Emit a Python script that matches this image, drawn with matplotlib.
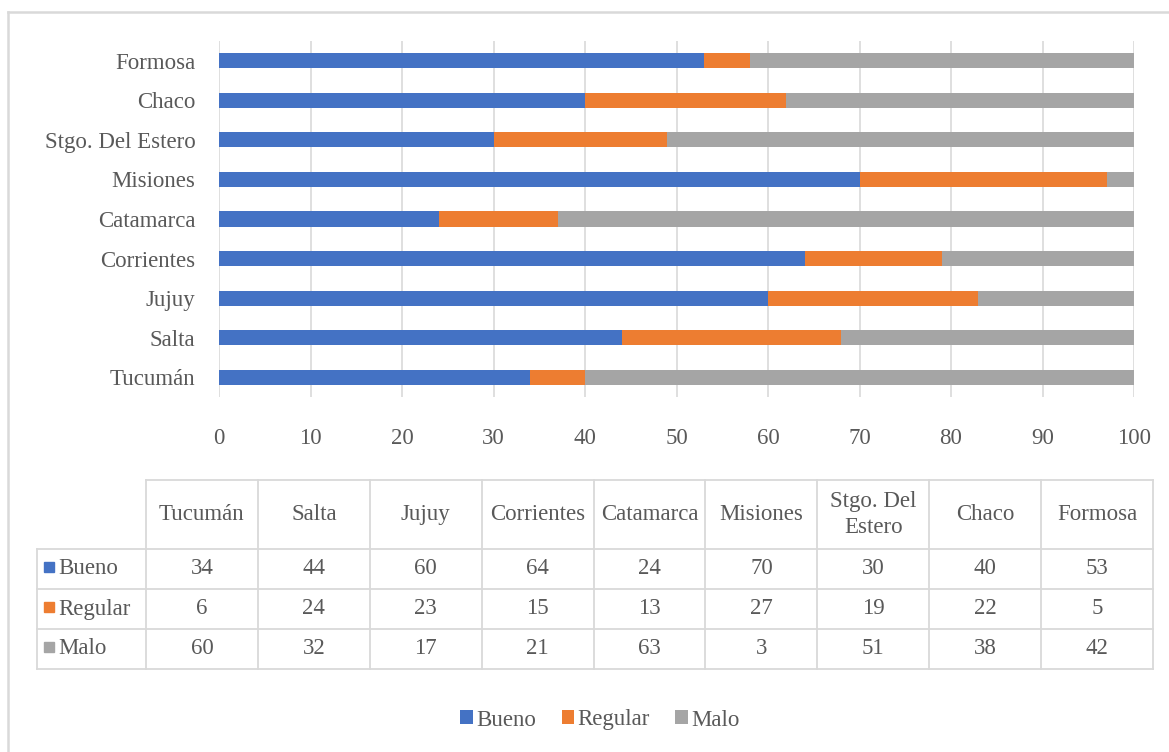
import matplotlib
matplotlib.use("Agg")
import matplotlib.pyplot as plt
from matplotlib.patches import Patch

# data (bottom to top in the bar chart = table order)
provincias = ['Tucumán', 'Salta', 'Jujuy', 'Corrientes', 'Catamarca',
              'Misiones', 'Stgo. Del Estero', 'Chaco', 'Formosa']
bueno = [34, 44, 60, 64, 24, 70, 30, 40, 53]
regular = [6, 24, 23, 15, 13, 27, 19, 22, 5]
malo = [60, 32, 17, 21, 63, 3, 51, 38, 42]
series = ['Bueno', 'Regular', 'Malo']
xticks = list(range(0, 101, 10))

colors = {'Bueno': '#4472C4', 'Regular': '#ED7D31', 'Malo': '#A5A5A5'}
txt = '#595959'
grid_c = '#D9D9D9'
fs = 16.5

plt.rcParams['font.family'] = ['Liberation Serif', 'DejaVu Serif']

W, H = 1169, 752
fig = plt.figure(figsize=(W / 100, H / 100), dpi=100)


def px_box(x0, y0, x1, y1):
    # pixel box (top-left origin) -> figure fraction rect
    return [x0 / W, 1 - y1 / H, (x1 - x0) / W, (y1 - y0) / H]


# ---- stacked bar chart ----
ax = fig.add_axes(px_box(219, 41, 1134, 397))
ypos = range(len(provincias))
h = 0.38
ax.barh(ypos, bueno, height=h, color=colors['Bueno'], zorder=3)
ax.barh(ypos, regular, height=h, left=bueno, color=colors['Regular'], zorder=3)
left2 = [b + r for b, r in zip(bueno, regular)]
ax.barh(ypos, malo, height=h, left=left2, color=colors['Malo'], zorder=3)

ax.set_xlim(0, 100)
ax.set_ylim(-0.5, len(provincias) - 0.5)
ax.set_xticks(xticks)
ax.set_yticks(list(ypos))
ax.set_yticklabels(provincias)
ax.tick_params(axis='x', length=0, pad=22, labelsize=fs, labelcolor=txt)
ax.tick_params(axis='y', length=0, pad=17, labelsize=fs, labelcolor=txt)
ax.grid(axis='x', color=grid_c, lw=1.2, zorder=0)
for s in ax.spines.values():
    s.set_visible(False)

# ---- data table ----
tab = fig.add_axes(px_box(37, 480, 1153, 669))
lab_w = 109 / 111.9
hdr_h = 69 / 40
ncol = len(provincias)
tab.set_xlim(-lab_w, ncol)
tab.set_ylim(0, 3 + hdr_h)
tab.axis('off')

for yy in [0, 1, 2, 3]:
    tab.plot([-lab_w, ncol], [yy, yy], color=grid_c, lw=1.3, clip_on=False)
tab.plot([0, ncol], [3 + hdr_h] * 2, color=grid_c, lw=1.3, clip_on=False)
tab.plot([-lab_w, -lab_w], [0, 3], color=grid_c, lw=1.3, clip_on=False)
for xx in range(ncol + 1):
    tab.plot([xx, xx], [0, 3 + hdr_h], color=grid_c, lw=1.3, clip_on=False)

for i, p in enumerate(provincias):
    lbl = 'Stgo. Del\nEstero' if p == 'Stgo. Del Estero' else p
    tab.text(i + 0.5, 3 + hdr_h / 2, lbl, ha='center', va='center',
             fontsize=fs, color=txt, linespacing=1.3)

rows = {'Bueno': bueno, 'Regular': regular, 'Malo': malo}
for r, name in enumerate(series):
    yc = 2.5 - r
    tab.plot([-lab_w + 0.11], [yc + 0.05], marker='s', ms=7.5,
             color=colors[name], clip_on=False)
    tab.text(-lab_w + 0.19, yc, name, ha='left', va='center',
             fontsize=fs, color=txt)
    for i, v in enumerate(rows[name]):
        tab.text(i + 0.5, yc, str(v), ha='center', va='center',
                 fontsize=fs, color=txt)

# ---- legend ----
handles = [Patch(facecolor=colors[s], edgecolor='none') for s in series]
fig.legend(handles, series, loc='center', bbox_to_anchor=(600 / W, 1 - 720 / H),
           ncol=3, frameon=False, fontsize=fs, labelcolor=txt,
           handlelength=0.55, handleheight=0.55, handletextpad=0.15,
           columnspacing=1.1)

# ---- outer border (left and top visible) ----
fig.add_artist(plt.Line2D([8 / W, 8 / W], [0, 1 - 12 / H], color=grid_c, lw=1.8))
fig.add_artist(plt.Line2D([8 / W, 1], [1 - 12 / H, 1 - 12 / H], color=grid_c, lw=1.8))

fig.savefig('out.png', dpi=100)
